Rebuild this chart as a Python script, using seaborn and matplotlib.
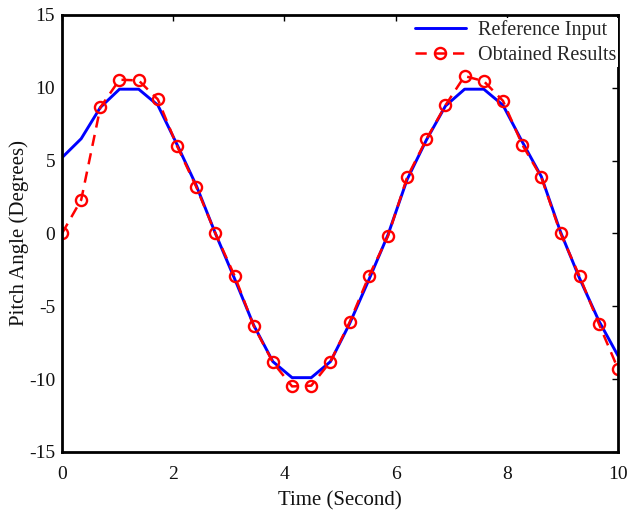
import matplotlib
matplotlib.use("Agg")
import matplotlib.pyplot as plt
import seaborn as sns
import pandas as pd

# Data
time_s = [0.0, 0.345, 0.69, 1.034, 1.379, 1.724, 2.069, 2.414, 2.759, 3.103,
          3.448, 3.793, 4.138, 4.483, 4.828, 5.172, 5.517, 5.862, 6.207, 6.552,
          6.897, 7.241, 7.586, 7.931, 8.276, 8.621, 8.966, 9.31, 9.655, 10.0]
reference_input = [5.2, 6.5, 8.65, 9.9, 9.9, 8.8, 6.1, 3.3, 0.0, -3.1,
                   -6.3, -8.8, -9.9, -9.9, -8.8, -6.2, -3.2, -0.1, 3.7, 6.4,
                   8.75, 9.9, 9.9, 8.8, 6.3, 3.9, 0.1, -3.1, -6.0, -8.4]
obtained_results = [0.0, 2.3, 8.65, 10.55, 10.5, 9.2, 6.0, 3.2, 0.0, -2.9,
                    -6.35, -8.85, -10.5, -10.45, -8.8, -6.1, -2.95, -0.2, 3.85, 6.45,
                    8.8, 10.8, 10.45, 9.1, 6.1, 3.85, 0.0, -2.95, -6.2, -9.3]
x_ticks = [0, 2, 4, 6, 8, 10]
y_ticks = [-15, -10, -5, 0, 5, 10, 15]

sns.set_theme(style="white")
plt.rcParams['font.family'] = ['Liberation Serif', 'DejaVu Serif']
plt.rcParams['mathtext.fontset'] = 'stix'

df = pd.DataFrame({"t": time_s, "ref": reference_input, "obt": obtained_results})

fig = plt.figure(figsize=(6.30, 5.13), dpi=100)
ax = fig.add_axes([0.0984, 0.119, 0.8826, 0.852])

sns.lineplot(data=df, x="t", y="ref", ax=ax, color="#0000FF", linewidth=2.1,
             label="Reference Input", sort=False, estimator=None)
sns.lineplot(data=df, x="t", y="obt", ax=ax, color="#FF0000", linewidth=1.8,
             linestyle=(0, (4.5, 3)), marker="o", markersize=8,
             markerfacecolor="none", markeredgecolor="#FF0000", markeredgewidth=1.7,
             label="Obtained Results", sort=False, estimator=None)

ax.set_xlim(0, 10)
ax.set_ylim(-15, 15)
ax.set_xticks(x_ticks)
ax.set_yticks(y_ticks)
ax.set_xticklabels([str(v) for v in x_ticks])
ax.set_yticklabels([str(v) for v in y_ticks])
ax.tick_params(axis="both", which="both", direction="in", length=4, width=1,
               top=True, right=True, labelsize=14, colors="black",
               labelcolor="#111111")
ax.tick_params(axis="x", pad=10)
ax.tick_params(axis="y", pad=5)
for s in ax.spines.values():
    s.set_linewidth(2.0)
    s.set_color("black")

ax.set_xlabel("Time (Second)", fontsize=15, labelpad=6, color="#111111")
ax.set_ylabel("Pitch Angle (Degrees)", fontsize=15, labelpad=0, color="#111111")

leg = ax.legend(loc="upper right", bbox_to_anchor=(1.0, 0.993), frameon=True,
                fontsize=14.5, handlelength=2.5, handletextpad=0.6,
                borderpad=0.1, labelspacing=0.3, borderaxespad=0.0,
                fancybox=False)
leg.get_frame().set_facecolor("white")
leg.get_frame().set_edgecolor("none")
leg.get_frame().set_alpha(1.0)
leg.set_zorder(10)

fig.savefig("out.png", dpi=100)
